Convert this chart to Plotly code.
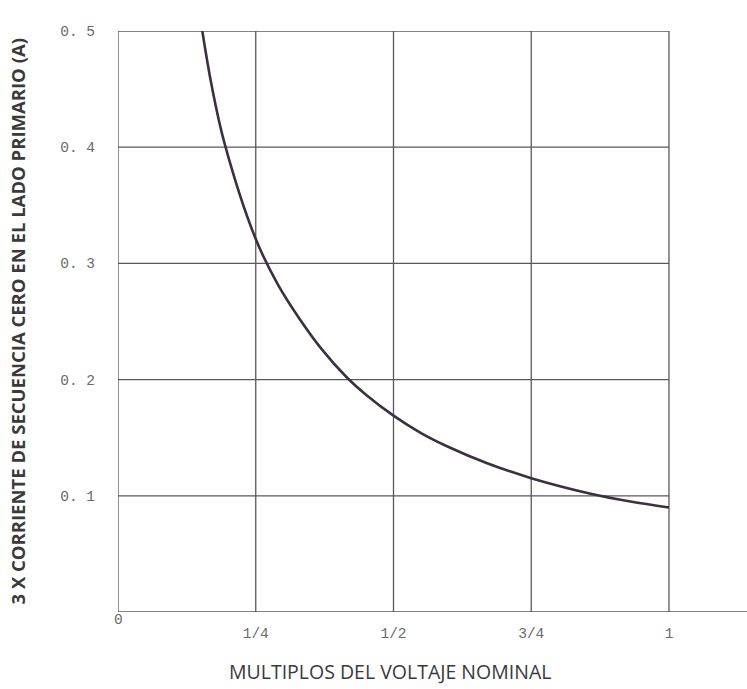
import plotly.graph_objects as go

# Zero-sequence current curve vs. multiples of nominal voltage
voltage_multiple = [0.153, 0.17, 0.193, 0.25, 0.29, 0.33, 0.37, 0.415, 0.45, 0.50, 0.55, 0.60, 0.67, 0.75, 0.86, 0.93, 1.00]
current_a = [0.500, 0.453, 0.404, 0.321, 0.282, 0.252, 0.226, 0.202, 0.187, 0.169, 0.154, 0.142, 0.128, 0.1152, 0.1016, 0.0951, 0.090]

x_ticks = [0, 0.25, 0.5, 0.75, 1]
x_labels = ["", "1/4", "1/2", "3/4", "1"]
y_ticks = [0.1, 0.2, 0.3, 0.4, 0.5]
y_labels = ["0. 1", "0. 2", "0. 3", "0. 4", "0. 5"]

grid_color = "#5a5560"
tick_font = dict(family="Liberation Mono, DejaVu Sans Mono, monospace", size=14.5, color="#6a6a6a")

fig = go.Figure()
fig.add_trace(go.Scatter(
    x=voltage_multiple, y=current_a, mode="lines",
    line=dict(color="#3b3040", width=2.6, shape="spline", smoothing=1.0),
    hoverinfo="skip", showlegend=False,
))

shapes = []
# horizontal grid lines stop at x = 1
for yv in y_ticks:
    shapes.append(dict(type="line", xref="x", yref="y", x0=x_ticks[0], x1=x_ticks[-1], y0=yv, y1=yv,
                       line=dict(color=grid_color, width=1.3), layer="below"))
# vertical grid lines span the full height
for xv in x_ticks:
    shapes.append(dict(type="line", xref="x", yref="y", x0=xv, x1=xv, y0=0, y1=y_ticks[-1],
                       line=dict(color=grid_color, width=1.3), layer="below"))
# baseline extends past x = 1
shapes.append(dict(type="line", xref="paper", yref="y", x0=0, x1=1, y0=0, y1=0,
                   line=dict(color=grid_color, width=1.3), layer="below"))

annotations = [
    dict(text="0", xref="x", yref="paper", x=x_ticks[0], y=-0.013, xanchor="center", yanchor="middle",
         showarrow=False, font=tick_font),
    dict(text="MULTIPLOS DEL VOLTAJE NOMINAL", xref="x", yref="paper", x=0.494, y=-0.103,
         xanchor="center", yanchor="middle", showarrow=False,
         font=dict(family="Open Sans, Lato, sans-serif", size=19.5, color="#3a3a3a")),
    dict(text="<b>3 X CORRIENTE DE SECUENCIA CERO EN EL LADO PRIMARIO (A)</b>", textangle=-90,
         xref="paper", yref="paper", x=-0.159, y=0.5, xanchor="center", yanchor="middle",
         showarrow=False, font=dict(family="Open Sans, Lato, sans-serif", size=18.5, color="#3a3a3a")),
]

fig.update_layout(
    width=747, height=689,
    margin=dict(l=118, r=0, t=31, b=77),
    paper_bgcolor="white", plot_bgcolor="white",
    shapes=shapes, annotations=annotations,
    xaxis=dict(range=[0, 1.1416], tickvals=x_ticks, ticktext=x_labels, showgrid=False,
               zeroline=False, showline=False, ticks="", tickfont=tick_font, ticklabelstandoff=10),
    yaxis=dict(range=[0, 0.5], tickvals=y_ticks, ticktext=y_labels, showgrid=False,
               zeroline=False, showline=False, ticks="", tickfont=tick_font, ticklabelstandoff=22),
)

fig.write_html("out.html")
